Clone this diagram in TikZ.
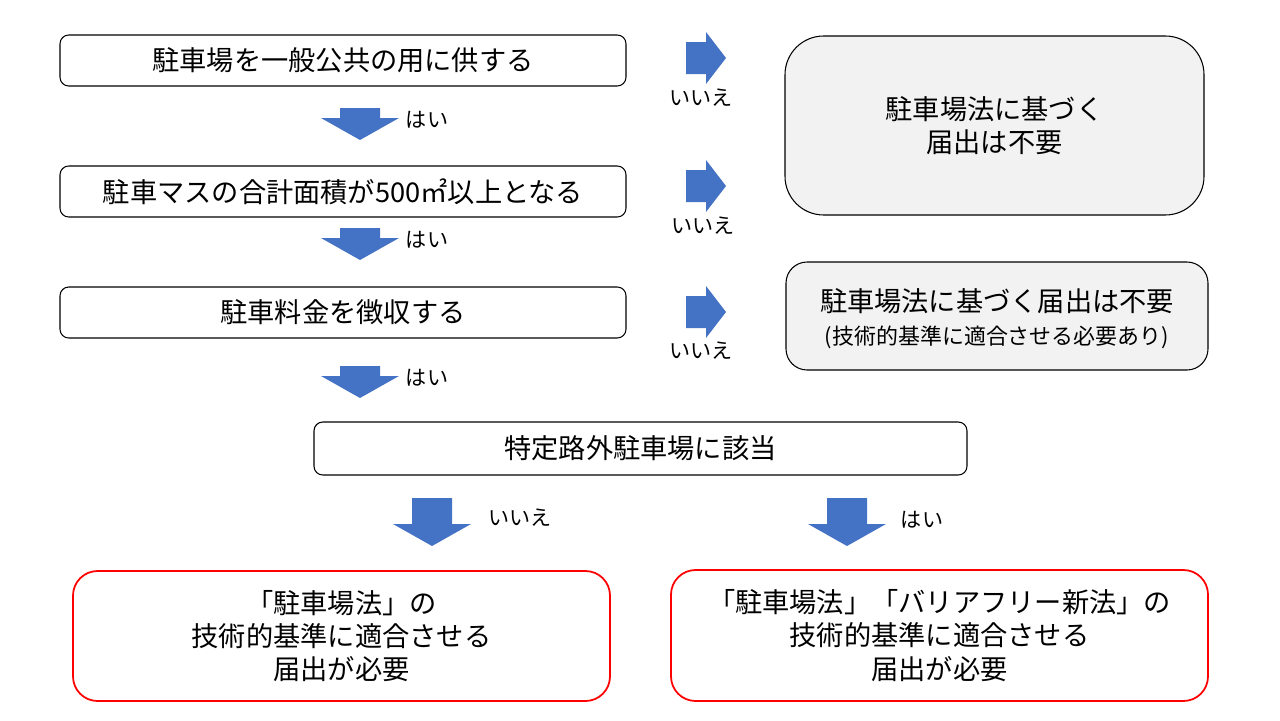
\documentclass[tikz,border=0pt]{standalone}
\usepackage{fontspec}
\setmainfont{Noto Sans CJK JP}
\definecolor{flowblue}{HTML}{4472C4}
\newcommand{\DownArr}[4]{% name, x, top, length
	\fill[flowblue] (#2-20,#3) -- (#2+20,#3) -- (#2+20,#3+#4-22) -- (#2+39,#3+#4-22)
		-- (#2,#3+#4) coordinate (#1) -- (#2-39,#3+#4-22) -- (#2-20,#3+#4-22) -- cycle;}
\newcommand{\RightArr}[3]{% name, left, y
	\fill[flowblue] (#2,#3-16) -- (#2+20,#3-16) -- (#2+20,#3-26) -- (#2+40,#3) coordinate (#1)
		-- (#2+20,#3+26) -- (#2+20,#3+16) -- (#2,#3+16) -- cycle;}

\begin{document}
\begin{tikzpicture}[x=0.02cm,y=-0.02cm,
		step box/.style={draw,rounded corners=5pt,line width=0.6pt,font=\fontsize{15.5}{18}\selectfont},
		no box/.style={draw,fill=gray!10,line width=0.6pt,font=\fontsize{15.5}{19}\selectfont,align=center},
		end box/.style={draw=red,rounded corners=14pt,line width=1pt,font=\fontsize{15.5}{19}\selectfont,align=center},
		lbl/.style={font=\fontsize{12}{13}\selectfont}]
	\useasboundingbox (0,0) rectangle (1280,720);
	% question boxes
	\draw[step box] (60,35) rectangle (626,86) node[midway] (q1) {駐車場を一般公共の用に供する};
	\draw[step box] (60,166) rectangle (626,217) node[midway] (q2) {駐車マスの合計面積が500㎡以上となる};
	\draw[step box] (60,287) rectangle (626,338) node[midway] (q3) {駐車料金を徴収する};
	\draw[step box] (314,422) rectangle (967,475) node[midway] (q4) {特定路外駐車場に該当};
	% right side results
	\draw[no box,rounded corners=22pt] (785,36) rectangle (1204,215)
		node[midway] (r1) {駐車場法に基づく\\届出は不要};
	\draw[no box,rounded corners=12pt] (786,262) rectangle (1208,370)
		node[midway,yshift=-0.05cm] (r2) {駐車場法に基づく届出は不要\\{\fontsize{12.5}{15}\selectfont (技術的基準に適合させる必要あり)}};
	% final results
	\draw[end box] (73,571) rectangle (610,701)
		node[midway] (e1) {「駐車場法」の\\技術的基準に適合させる\\届出が必要};
	\draw[end box] (671,570) rectangle (1208,701)
		node[midway] (e2) {「駐車場法」「バリアフリー新法」の\\技術的基準に適合させる\\届出が必要};
	% down arrows
	\DownArr{d1}{360}{108}{32}
	\DownArr{d2}{360}{228}{32}
	\DownArr{d3}{360}{366}{32}
	\DownArr{d4}{432}{498}{48}
	\DownArr{d5}{847}{498}{48}
	\node[lbl] at (427,120) {はい};
	\node[lbl] at (427,240) {はい};
	\node[lbl] at (427,378) {はい};
	\node[lbl] at (520,518) {いいえ};
	\node[lbl] at (922,520) {はい};
	% right arrows
	\RightArr{a1}{686}{58}
	\RightArr{a2}{686}{186}
	\RightArr{a3}{686}{312}
	\node[lbl] at (701,98) {いいえ};
	\node[lbl] at (703,226) {いいえ};
	\node[lbl] at (701,351) {いいえ};
\end{tikzpicture}
\end{document}
